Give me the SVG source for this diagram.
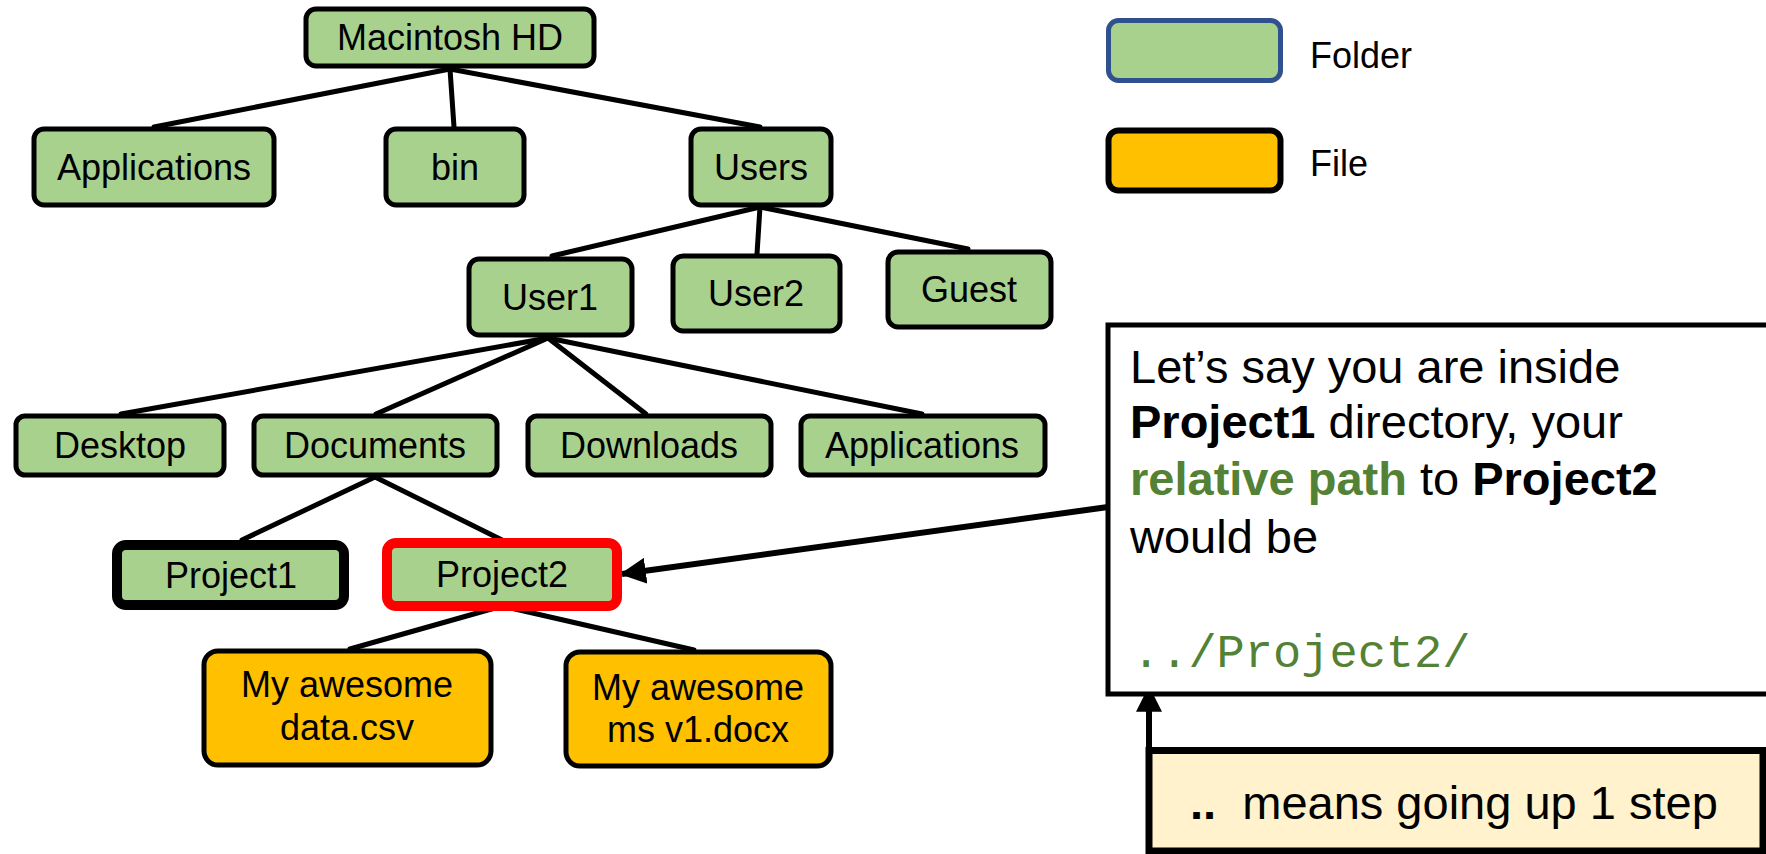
<svg xmlns="http://www.w3.org/2000/svg" width="1766" height="854" viewBox="0 0 1766 854">
  <style>
    .folder { fill: #A9D18E; stroke: #000; stroke-width: 5; }
    .file { fill: #FFC000; stroke: #000; stroke-width: 5; }
    .current { stroke-width: 10; }
    .target { stroke: #FF0000; stroke-width: 10; }
    .lbl { font-family: "Liberation Sans", Arial, sans-serif; font-size: 36px; fill: #000; text-anchor: middle; }
    .lbl-left { text-anchor: start; }
    .edge { stroke: #000; stroke-width: 5; fill: none; stroke-linecap: round; }
    .note { font-family: "Liberation Sans", Arial, sans-serif; font-size: 47px; fill: #000; }
    .b { font-weight: bold; }
    .g { fill: #538135; }
    .mono { font-family: "Liberation Mono", "Courier New", monospace; font-size: 47px; fill: #538135; }
  </style>
  <defs>
    <marker id="head" markerUnits="userSpaceOnUse" markerWidth="26" markerHeight="26" viewBox="0 0 24 24" refX="22" refY="12" orient="auto">
      <path d="M0,0 L24,12 L0,24 Z" fill="#000"/>
    </marker>
  </defs>

  <rect width="1766" height="854" fill="#fff"/>

  <!-- tree connectors -->
  <g id="connectors">
    <line class="edge" x1="450" y1="69" x2="154" y2="127"/>
    <line class="edge" x1="450" y1="69" x2="454" y2="127"/>
    <line class="edge" x1="450" y1="69" x2="760" y2="127"/>
    <line class="edge" x1="760" y1="207" x2="552" y2="256"/>
    <line class="edge" x1="760" y1="207" x2="757" y2="254"/>
    <line class="edge" x1="760" y1="207" x2="968" y2="249"/>
    <line class="edge" x1="548" y1="338" x2="121" y2="414"/>
    <line class="edge" x1="548" y1="338" x2="376" y2="414"/>
    <line class="edge" x1="548" y1="338" x2="646" y2="414"/>
    <line class="edge" x1="548" y1="338" x2="922" y2="414"/>
    <line class="edge" x1="375" y1="477" x2="242" y2="540"/>
    <line class="edge" x1="375" y1="477" x2="502" y2="540"/>
    <line class="edge" x1="502" y1="606" x2="350" y2="649"/>
    <line class="edge" x1="502" y1="606" x2="694" y2="650"/>
    <!-- pointer from the note to Project2 -->
    <line x1="1108" y1="507" x2="622" y2="574" stroke="#000" stroke-width="6" marker-end="url(#head)"/>
    <!-- pointer from the ".." hint up to the path -->
    <line x1="1149" y1="752" x2="1149" y2="688" stroke="#000" stroke-width="6" marker-end="url(#head)"/>
  </g>

  <g id="macintosh-hd">
    <rect class="folder" x="306" y="9" width="288" height="57" rx="10"/>
    <text class="lbl" x="450" y="50">Macintosh HD</text>
  </g>
  <g id="applications">
    <rect class="folder" x="34" y="129" width="240" height="76" rx="10"/>
    <text class="lbl" x="154" y="180">Applications</text>
  </g>
  <g id="bin">
    <rect class="folder" x="386" y="129" width="138" height="76" rx="10"/>
    <text class="lbl" x="455" y="180">bin</text>
  </g>
  <g id="users">
    <rect class="folder" x="691" y="129" width="140" height="76" rx="10"/>
    <text class="lbl" x="761" y="180">Users</text>
  </g>
  <g id="user1">
    <rect class="folder" x="469" y="259" width="163" height="76" rx="10"/>
    <text class="lbl" x="550" y="310">User1</text>
  </g>
  <g id="user2">
    <rect class="folder" x="673" y="256" width="167" height="75" rx="10"/>
    <text class="lbl" x="756" y="306">User2</text>
  </g>
  <g id="guest">
    <rect class="folder" x="888" y="252" width="163" height="75" rx="10"/>
    <text class="lbl" x="969" y="302">Guest</text>
  </g>
  <g id="desktop">
    <rect class="folder" x="16" y="416" width="208" height="59" rx="9"/>
    <text class="lbl" x="120" y="458">Desktop</text>
  </g>
  <g id="documents">
    <rect class="folder" x="254" y="416" width="243" height="59" rx="9"/>
    <text class="lbl" x="375" y="458">Documents</text>
  </g>
  <g id="downloads">
    <rect class="folder" x="528" y="416" width="243" height="59" rx="9"/>
    <text class="lbl" x="649" y="458">Downloads</text>
  </g>
  <g id="applications-user1">
    <rect class="folder" x="801" y="416" width="244" height="59" rx="9"/>
    <text class="lbl" x="922" y="458">Applications</text>
  </g>
  <g id="project1">
    <rect class="folder current" x="117" y="545" width="227" height="60" rx="9"/>
    <text class="lbl" x="231" y="588">Project1</text>
  </g>
  <g id="project2">
    <rect class="folder target" x="387" y="543" width="230" height="63" rx="9"/>
    <text class="lbl" x="502" y="587">Project2</text>
  </g>
  <g id="data-csv">
    <rect class="file" x="204" y="651" width="287" height="114" rx="14"/>
    <text class="lbl" x="347" y="697">My awesome</text>
    <text class="lbl" x="347" y="740">data.csv</text>
  </g>
  <g id="ms-docx">
    <rect class="file" x="566" y="652" width="265" height="114" rx="14"/>
    <text class="lbl" x="698" y="700">My awesome</text>
    <text class="lbl" x="698" y="742">ms v1.docx</text>
  </g>

  <!-- legend -->
  <g id="legend-folder">
    <rect x="1108.5" y="20.5" width="172" height="60" rx="10" fill="#A9D18E" stroke="#2F528F" stroke-width="5"/>
    <text class="lbl lbl-left" x="1310" y="68">Folder</text>
  </g>
  <g id="legend-file">
    <rect x="1108.5" y="130.5" width="172" height="60" rx="10" fill="#FFC000" stroke="#000" stroke-width="6"/>
    <text class="lbl lbl-left" x="1310" y="176">File</text>
  </g>

  <!-- explanation note -->
  <g id="note">
    <rect x="1108" y="325" width="700" height="369" fill="#fff" stroke="#000" stroke-width="5"/>
    <text class="note" x="1130" y="383">Let’s say you are inside</text>
    <text class="note" x="1130" y="438"><tspan class="b">Project1</tspan> directory, your</text>
    <text class="note" x="1130" y="495"><tspan class="b g">relative path</tspan> to <tspan class="b">Project2</tspan></text>
    <text class="note" x="1130" y="553">would be</text>
    <text class="mono" x="1132" y="667">../Project2/</text>
  </g>

  <g id="hint">
    <rect x="1149" y="750.5" width="614" height="100.5" fill="#FFF2CC" stroke="#000" stroke-width="7"/>
    <text class="note" x="1190" y="819" xml:space="preserve"><tspan class="b">..</tspan>  means going up 1 step</text>
  </g>
</svg>
